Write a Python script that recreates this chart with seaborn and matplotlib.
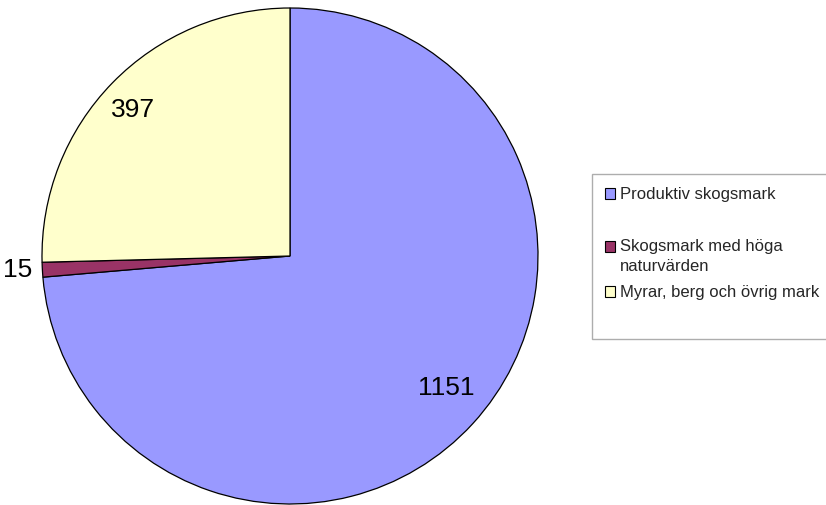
import matplotlib
matplotlib.use("Agg")
import matplotlib.pyplot as plt
import seaborn as sns
import numpy as np
from matplotlib.patches import Patch, Rectangle
from matplotlib.legend_handler import HandlerPatch

sns.set_theme(style="white")
plt.rcParams['font.family'] = ['Liberation Sans', 'DejaVu Sans']

categories = ["Produktiv skogsmark", "Skogsmark med höga\nnaturvärden", "Myrar, berg och övrig mark"]
values = [1151, 15, 397]
colors = ["#9999FF", "#993366", "#FFFFCC"]
label_r = [0.825, 1.10, 0.865]
label_dang = [2.2, -0.3, 1.4]

fig = plt.figure(figsize=(8.26, 5.05), dpi=100)
fig.patch.set_facecolor("white")
ax = fig.add_axes([42/826, 1/505, 496/826, 496/505])
wedges, _ = ax.pie(values, colors=colors, startangle=90, counterclock=False,
                   radius=1.0, wedgeprops=dict(edgecolor="black", linewidth=0.9))
ax.set_xlim(-1, 1)
ax.set_ylim(-1, 1)
ax.set_aspect("equal")
ax.axis("off")

for w, v, r, da in zip(wedges, values, label_r, label_dang):
    ang = np.deg2rad((w.theta1 + w.theta2) / 2 + da)
    ax.text(r * np.cos(ang), r * np.sin(ang), str(v), ha="center", va="center",
            fontsize=19, color="black")


def top_patch(legend, orig_handle, xdescent, ydescent, width, height, fontsize):
    return Rectangle((-xdescent, -ydescent + 0.62 * fontsize), width, height)


handles = []
labels = []
handler_map = {}
for i, (c, lab) in enumerate(zip(colors, categories)):
    p = Patch(facecolor=c, edgecolor="black", linewidth=0.8)
    handles.append(p)
    labels.append(lab)
    if "\n" in lab:
        handler_map[p] = HandlerPatch(patch_func=top_patch)
    if i == 0:
        handles.append(Patch(facecolor="none", edgecolor="none"))
        labels.append(" ")
handles.append(Patch(facecolor="none", edgecolor="none"))
labels.append(" ")

leg = fig.legend(handles, labels, loc="upper left", bbox_to_anchor=(592/826, 1 - 174/505),
                 fontsize=12, frameon=True, fancybox=False, handlelength=0.6,
                 handleheight=0.6, handletextpad=0.3, labelspacing=0.65,
                 borderpad=0.8, borderaxespad=0, handler_map=handler_map)
for t in leg.get_texts():
    t.set_linespacing(1.45)
leg.get_frame().set_edgecolor("#999999")
leg.get_frame().set_linewidth(1.0)

fig.savefig("out.png", dpi=100)
